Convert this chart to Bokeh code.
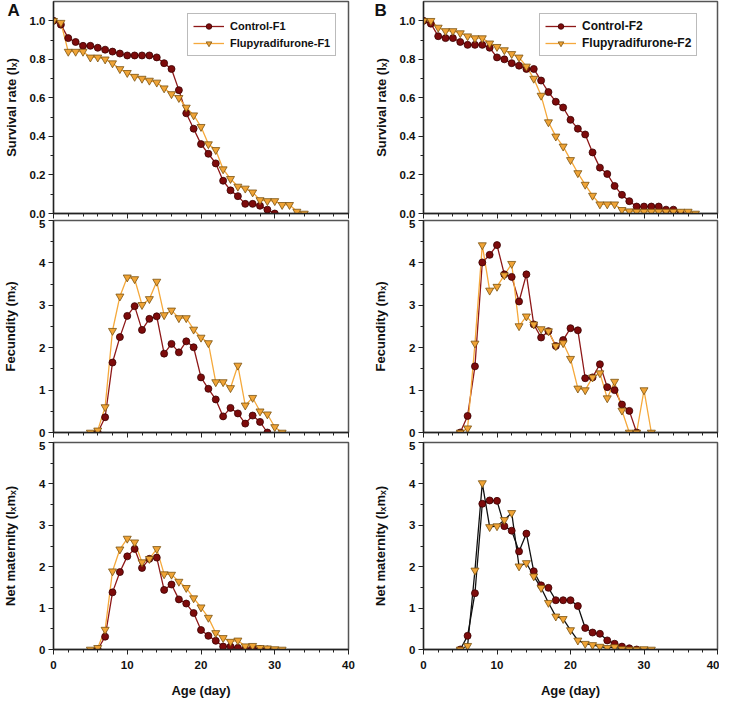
from bokeh.plotting import figure
from bokeh.layouts import row, column
from bokeh.models import (FixedTicker, Legend, LegendItem, Range1d, NumeralTickFormatter,
                          Title)
from bokeh.embed import file_html
from bokeh.resources import INLINE

FONT = "Liberation Sans"

# ---------------- data ----------------
# Survival rate (lx)
ctrl_f1_lx_days = list(range(0, 31))
ctrl_f1_lx = [1.00, 0.98, 0.91, 0.89, 0.87, 0.87, 0.86, 0.85, 0.84, 0.83, 0.82, 0.82, 0.82, 0.82,
              0.81, 0.78, 0.75, 0.64, 0.52, 0.44, 0.36, 0.31, 0.26, 0.17, 0.12, 0.09, 0.05, 0.05,
              0.04, 0.02, 0.00]
flu_f1_lx_days = list(range(0, 35))
flu_f1_lx = [1.00, 0.99, 0.84, 0.84, 0.84, 0.81, 0.81, 0.80, 0.78, 0.75, 0.73, 0.71, 0.70, 0.69,
             0.68, 0.65, 0.62, 0.60, 0.55, 0.51, 0.45, 0.36, 0.33, 0.23, 0.18, 0.14, 0.13, 0.11,
             0.07, 0.065, 0.065, 0.045, 0.045, 0.01, 0.00]
ctrl_f2_lx_days = list(range(0, 36))
ctrl_f2_lx = [1.00, 0.985, 0.92, 0.91, 0.91, 0.89, 0.875, 0.875, 0.875, 0.86, 0.81, 0.80, 0.78,
              0.767, 0.75, 0.75, 0.69, 0.63, 0.58, 0.55, 0.486, 0.44, 0.41, 0.317, 0.238, 0.205,
              0.143, 0.097, 0.064, 0.036, 0.036, 0.036, 0.036, 0.02, 0.02, 0.00]
flu_f2_lx_days = list(range(0, 38))
flu_f2_lx = [1.00, 1.00, 0.965, 0.947, 0.947, 0.936, 0.92, 0.91, 0.91, 0.883, 0.865, 0.848, 0.828,
             0.81, 0.763, 0.70, 0.612, 0.474, 0.40, 0.348, 0.278, 0.21, 0.15, 0.093, 0.048, 0.048,
             0.048, 0.019, 0.012, 0.01, 0.01, 0.01, 0.01, 0.01, 0.01, 0.01, 0.01, 0.00]

# Fecundity (mx)
ctrl_f1_mx_days = list(range(6, 30))
ctrl_f1_mx = [0, 0.36, 1.65, 2.25, 2.75, 2.98, 2.42, 2.68, 2.74, 1.86, 2.09, 1.89, 2.15, 2.01,
              1.30, 1.03, 0.78, 0.38, 0.58, 0.45, 0.21, 0.40, 0.25, 0]
flu_f1_mx_days = list(range(5, 32))
flu_f1_mx = [0, 0.05, 0.60, 2.40, 3.21, 3.66, 3.62, 3.01, 3.15, 3.56, 2.77, 2.88, 2.70, 2.70,
             2.43, 2.24, 2.11, 1.19, 1.19, 1.05, 1.58, 0.64, 0.82, 0.50, 0.43, 0.13, 0]
ctrl_f2_mx_days = list(range(5, 30))
ctrl_f2_mx = [0, 0.39, 1.56, 4.01, 4.19, 4.42, 3.73, 3.67, 3.09, 3.73, 2.55, 2.24, 2.39, 2.04,
              2.18, 2.46, 2.41, 1.28, 1.30, 1.61, 1.07, 1.00, 0.66, 0.51, 0]
flu_f2_mx_days = list(range(5, 32))
flu_f2_mx = [0, 0.10, 2.10, 4.42, 3.35, 3.44, 3.71, 3.98, 2.51, 2.74, 2.55, 2.44, 2.39, 2.04,
             2.11, 1.74, 1.04, 1.00, 1.30, 1.40, 0.81, 1.20, 0.52, 0, 0, 1.00, 0]

# Net maternity (lx*mx)
ctrl_f1_lxmx_days = list(range(6, 30))
ctrl_f1_lxmx = [0, 0.31, 1.38, 1.87, 2.25, 2.43, 1.97, 2.19, 2.22, 1.44, 1.57, 1.21, 1.11, 0.88,
                0.47, 0.33, 0.21, 0.07, 0.07, 0.04, 0.01, 0.02, 0.01, 0]
flu_f1_lxmx_days = list(range(5, 32))
flu_f1_lxmx = [0, 0.04, 0.48, 1.89, 2.42, 2.68, 2.59, 2.11, 2.19, 2.43, 1.82, 1.81, 1.64, 1.49,
               1.24, 1.02, 0.77, 0.40, 0.28, 0.19, 0.22, 0.08, 0.09, 0.04, 0.03, 0.01, 0]
ctrl_f2_lxmx_days = list(range(5, 30))
ctrl_f2_lxmx = [0, 0.33, 1.36, 3.52, 3.60, 3.59, 2.98, 2.87, 2.37, 2.80, 1.89, 1.55, 1.49, 1.19,
                1.19, 1.19, 1.05, 0.52, 0.41, 0.38, 0.22, 0.14, 0.07, 0.03, 0]
flu_f2_lxmx_days = list(range(5, 32))
flu_f2_lxmx = [0, 0.09, 1.91, 4.02, 2.96, 2.98, 3.13, 3.30, 2.01, 2.09, 1.77, 1.49, 1.13, 0.80,
               0.74, 0.47, 0.22, 0.14, 0.11, 0.07, 0.04, 0.06, 0.01, 0, 0, 0.01, 0]

x_ticks = [0, 10, 20, 30, 40]
x_minor = list(range(0, 41, 2))
lx_ticks = [0.0, 0.2, 0.4, 0.6, 0.8, 1.0]
lx_minor = [0.1, 0.3, 0.5, 0.7, 0.9]
m_ticks = [0, 1, 2, 3, 4, 5]
m_minor = [0.5, 1.5, 2.5, 3.5, 4.5]

CTRL_FILL, CTRL_EDGE, CTRL_LINE = "#7d0b0b", "#3a0000", "#8e1818"
FLU_FILL, FLU_EDGE, FLU_LINE = "#f0a436", "#7a5210", "#f5a93c"


def make_panel(width, height, bl, br, bt, bb, ylim, yticks, yminor, yfmt, ylabel,
               ylabel_standoff, xlabels):
    p = figure(width=width, height=height, output_backend="svg", toolbar_location=None,
               x_range=Range1d(0, 40), y_range=Range1d(*ylim),
               min_border_left=bl, min_border_right=br, min_border_top=bt,
               min_border_bottom=bb)
    p.xgrid.visible = False
    p.ygrid.visible = False
    p.outline_line_color = "#555555"
    p.outline_line_width = 1.5
    p.background_fill_color = "white"
    p.border_fill_color = "white"
    p.xaxis.ticker = FixedTicker(ticks=x_ticks, minor_ticks=x_minor)
    p.yaxis.ticker = FixedTicker(ticks=yticks, minor_ticks=yminor)
    if yfmt:
        p.yaxis.formatter = NumeralTickFormatter(format=yfmt)
    for ax in (p.xaxis[0], p.yaxis[0]):
        ax.axis_line_color = "#222222"
        ax.axis_line_width = 1.3
        ax.major_tick_line_color = "#222222"
        ax.minor_tick_line_color = "#222222"
        ax.major_tick_in = 0
        ax.major_tick_out = 5
        ax.minor_tick_in = 0
        ax.minor_tick_out = 3
        ax.major_label_text_font = FONT
        ax.major_label_text_font_style = "bold"
        ax.major_label_text_font_size = "11.5px"
        ax.major_label_text_color = "#111111"
        ax.axis_label_text_font = FONT
        ax.axis_label_text_font_style = "bold"
        ax.axis_label_text_font_size = "13px"
        ax.axis_label_text_color = "#111111"
    p.yaxis.axis_label = ylabel
    p.yaxis.axis_label_standoff = ylabel_standoff
    p.yaxis.major_label_standoff = 3
    if xlabels:
        p.xaxis.axis_label = "Age (day)"
        p.xaxis.major_label_standoff = 6
        p.xaxis.axis_label_standoff = 11
    else:
        p.xaxis.major_label_text_font_size = "0px"
        p.xaxis.major_label_standoff = 0
        p.xaxis.major_label_overrides = {t: "" for t in x_ticks}
    return p


def add_series(p, xc, yc, xf, yf, ctrl_line=CTRL_LINE, flu_line=FLU_LINE):
    l1 = p.line(xc, yc, line_color=ctrl_line, line_width=1.3)
    l2 = p.line(xf, yf, line_color=flu_line, line_width=1.3)
    s1 = p.scatter(xc, yc, marker="circle", size=7, fill_color=CTRL_FILL,
                   line_color=CTRL_EDGE, line_width=0.8)
    s2 = p.scatter(xf, yf, marker="inverted_triangle", size=8, fill_color=FLU_FILL,
                   line_color=FLU_EDGE, line_width=0.8)
    return l1, l2, s1, s2


def add_legend(p, renderers, labels, loc, fsize):
    l1, l2, s1, s2 = renderers
    lg = Legend(items=[LegendItem(label=labels[0], renderers=[l1, s1]),
                       LegendItem(label=labels[1], renderers=[l2, s2])],
                location=loc)
    lg.border_line_color = "#777777"
    lg.border_line_width = 1.2
    lg.background_fill_color = "white"
    lg.background_fill_alpha = 1.0
    lg.label_text_font = FONT
    lg.label_text_font_style = "bold"
    lg.label_text_font_size = fsize
    lg.label_text_color = "#111111"
    lg.glyph_width = 31
    lg.glyph_height = 14
    lg.label_height = 14
    lg.label_standoff = 6
    lg.spacing = 3
    lg.padding = 5
    lg.margin = 0
    p.add_layout(lg)


def add_letter(p, text, xoff):
    t = Title(text=text, align="left", offset=xoff, standoff=-37, vertical_align="bottom",
              text_font=FONT, text_font_style="bold", text_font_size="17px",
              text_color="#111111")
    p.add_layout(t, "above")


WA, WB = 360, 359
BLA, BRA = 51, 12
BLB, BRB = 63, 2
H1, H2, H3 = 219, 222, 259

# Column A
a1 = make_panel(WA, H1, BLA, BRA, 1, 6, (0, 1.1), lx_ticks, lx_minor, "0.0",
                "Survival rate (lₓ)", 8, False)
r = add_series(a1, ctrl_f1_lx_days, ctrl_f1_lx, flu_f1_lx_days, flu_f1_lx)
add_legend(a1, r, ["Control-F1", "Flupyradifurone-F1"], (134, 157), "11px")
add_letter(a1, "A", -46)

a2 = make_panel(WA, H2, BLA, BRA, 1, 9, (0, 5), m_ticks, m_minor, None,
                "Fecundity (mₓ)", 18, False)
add_series(a2, ctrl_f1_mx_days, ctrl_f1_mx, flu_f1_mx_days, flu_f1_mx)

a3 = make_panel(WA, H3, BLA, BRA, 1, 46, (0, 5), m_ticks, m_minor, None,
                "Net maternity (lₓmₓ)", 18, True)
add_series(a3, ctrl_f1_lxmx_days, ctrl_f1_lxmx, flu_f1_lxmx_days, flu_f1_lxmx)

# Column B
b1 = make_panel(WB, H1, BLB, BRB, 1, 6, (0, 1.1), lx_ticks, lx_minor, "0.0",
                "Survival rate (lₓ)", 8, False)
r = add_series(b1, ctrl_f2_lx_days, ctrl_f2_lx, flu_f2_lx_days, flu_f2_lx)
add_legend(b1, r, ["Control-F2", "Flupyradifurone-F2"], (116, 157), "12px")
add_letter(b1, "B", -49)

b2 = make_panel(WB, H2, BLB, BRB, 1, 9, (0, 5), m_ticks, m_minor, None,
                "Fecundity (mₓ)", 18, False)
add_series(b2, ctrl_f2_mx_days, ctrl_f2_mx, flu_f2_mx_days, flu_f2_mx)

b3 = make_panel(WB, H3, BLB, BRB, 1, 46, (0, 5), m_ticks, m_minor, None,
                "Net maternity (lₓmₓ)", 18, True)
add_series(b3, ctrl_f2_lxmx_days, ctrl_f2_lxmx, flu_f2_lxmx_days, flu_f2_lxmx,
           ctrl_line="#111111", flu_line="#111111")

layout = column(row(a1, b1), row(a2, b2), row(a3, b3))

open("out.html", "w").write(file_html(layout, INLINE))
